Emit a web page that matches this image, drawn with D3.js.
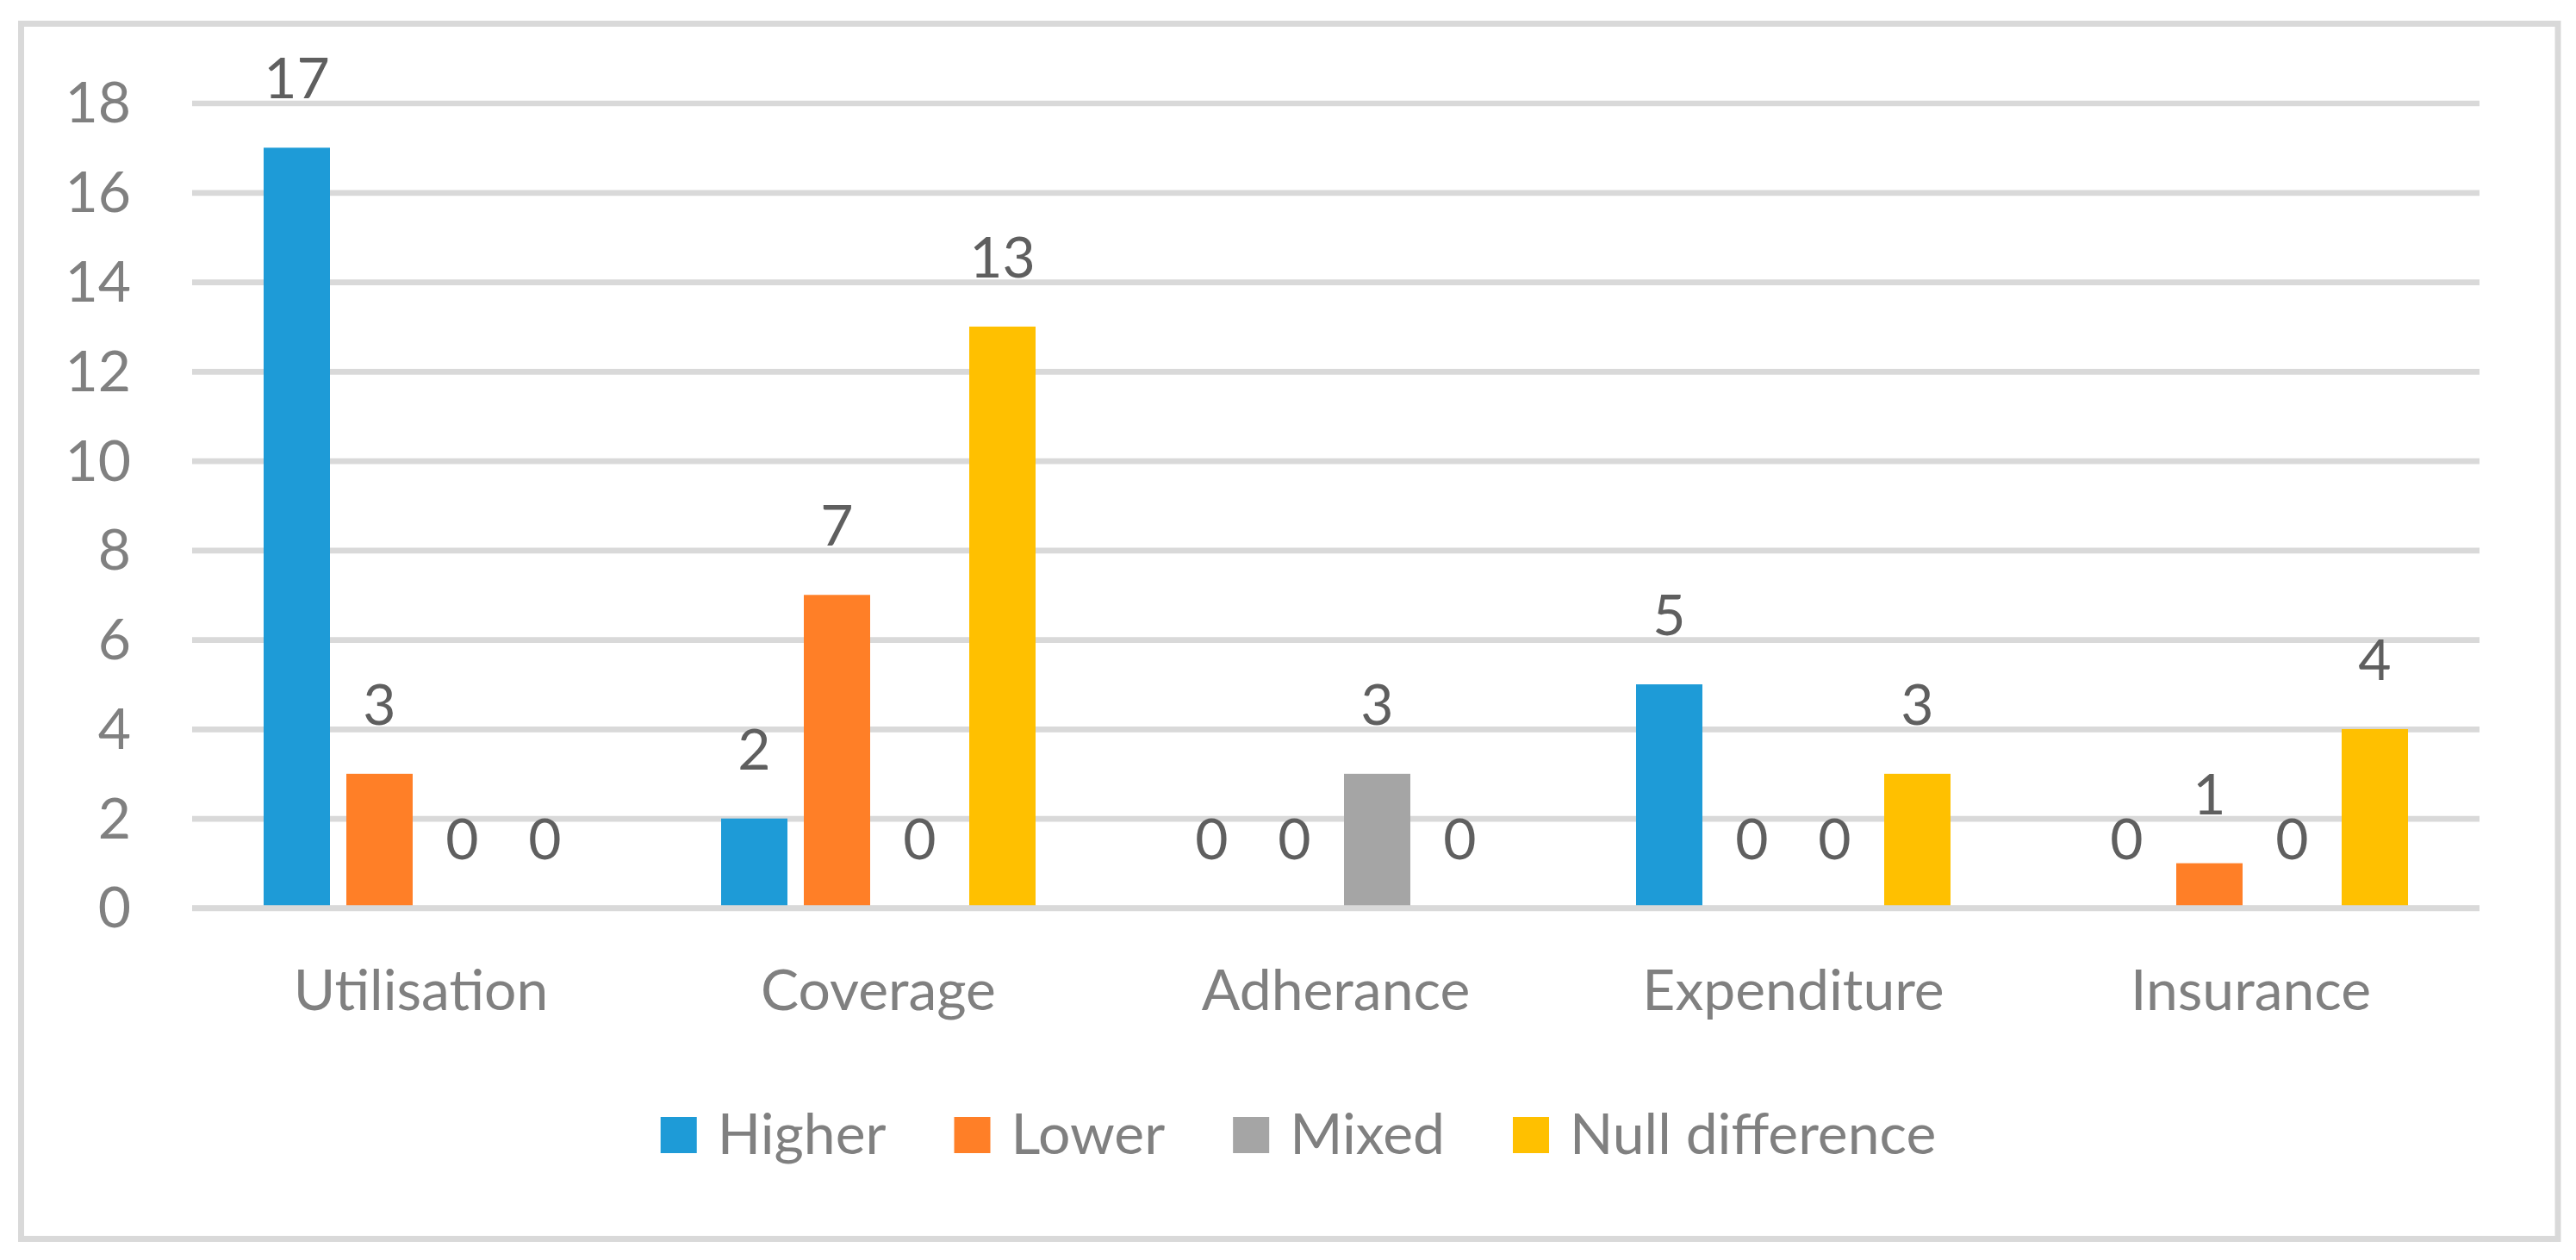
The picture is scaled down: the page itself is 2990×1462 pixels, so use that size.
<!DOCTYPE html>
<html>
<head>
<meta charset="utf-8">
<script src="https://cdn.jsdelivr.net/npm/d3@7"></script>
<style>
  body { margin: 0; background: #fff; }
  svg text { font-family: Lato, "Open Sans", sans-serif; }
</style>
</head>
<body>
<svg id="chart" width="2990" height="1462"></svg>
<script>
const categories = ['Utilisation', 'Coverage', 'Adherance', 'Expenditure', 'Insurance'];
const seriesNames = ['Higher', 'Lower', 'Mixed', 'Null difference'];
const higher = [17, 2, 0, 5, 0];
const lower = [3, 7, 0, 0, 1];
const mixed = [0, 0, 3, 0, 0];
const nullDiff = [0, 13, 0, 3, 4];
const yTicks = [0, 2, 4, 6, 8, 10, 12, 14, 16, 18];
const colors = ['#1e9bd7', '#ff7f27', '#a5a5a5', '#ffc000'];

const series = [higher, lower, mixed, nullDiff];
const rows = categories.map((c, i) => ({
  cat: c,
  vals: series.map((s, j) => ({ key: seriesNames[j], value: s[i] }))
}));

const svg = d3.select('#chart');
const plotLeft = 223, plotRight = 2878, plotTop = 119.5, plotBottom = 1053.5;

// outer frame
svg.append('rect')
  .attr('x', 24.5).attr('y', 27.5)
  .attr('width', 2944.5).attr('height', 1410)
  .attr('fill', 'none')
  .attr('stroke', '#d9d9d9')
  .attr('stroke-width', 7);

const x0 = d3.scaleBand()
  .domain(categories)
  .range([plotLeft, plotRight])
  .paddingInner(0.3126)
  .paddingOuter(0.1563);

const x1 = d3.scaleBand()
  .domain(seriesNames)
  .range([0, x0.bandwidth()])
  .paddingInner(0.198)
  .paddingOuter(0);

const y = d3.scaleLinear()
  .domain([0, 18])
  .range([plotBottom, plotTop]);

const color = d3.scaleOrdinal().domain(seriesNames).range(colors);

// y axis with gridlines
const yAxis = svg.append('g')
  .attr('transform', `translate(${plotLeft},0)`)
  .call(d3.axisLeft(y).tickValues(yTicks).tickSize(-(plotRight - plotLeft)).tickPadding(71));
yAxis.select('.domain').remove();
yAxis.selectAll('.tick line')
  .attr('stroke', '#d9d9d9')
  .attr('stroke-width', 6.7);
yAxis.selectAll('.tick text')
  .attr('fill', '#808080')
  .attr('font-size', 66)
  .attr('dy', '0.34em');

// bars
const groups = svg.append('g')
  .selectAll('g')
  .data(rows)
  .enter().append('g')
  .attr('transform', d => `translate(${x0(d.cat)},0)`);

groups.selectAll('rect')
  .data(d => d.vals)
  .enter().append('rect')
  .attr('x', d => x1(d.key))
  .attr('y', d => y(d.value))
  .attr('width', x1.bandwidth())
  .attr('height', d => y(0) - y(d.value))
  .attr('fill', d => color(d.key));

// data labels
groups.selectAll('text')
  .data(d => d.vals)
  .enter().append('text')
  .attr('x', d => x1(d.key) + x1.bandwidth() / 2)
  .attr('y', d => y(d.value) - 57)
  .attr('text-anchor', 'middle')
  .attr('font-size', 66)
  .attr('fill', '#5f5f5f')
  .text(d => d.value);

// category axis (zero line drawn over bars)
const xAxis = svg.append('g')
  .attr('transform', `translate(0,${plotBottom})`)
  .call(d3.axisBottom(x0).tickSize(0).tickPadding(71.5));
xAxis.select('.domain')
  .attr('stroke', '#d9d9d9')
  .attr('stroke-width', 6.7)
  .attr('d', `M${plotLeft},0H${plotRight}`);
xAxis.selectAll('.tick text')
  .attr('fill', '#808080')
  .attr('font-size', 66);

// legend
const legend = svg.append('g');
const items = legend.selectAll('g')
  .data(seriesNames)
  .enter().append('g');
items.append('rect')
  .attr('y', 1296)
  .attr('width', 42).attr('height', 42)
  .attr('fill', d => color(d));
items.append('text')
  .attr('x', 66)
  .attr('y', 1339)
  .attr('font-size', 66)
  .attr('fill', '#808080')
  .text(d => d);

let cursor = 0;
items.each(function() {
  const w = 66 + d3.select(this).select('text').node().getComputedTextLength();
  d3.select(this).attr('transform', `translate(${cursor},0)`);
  cursor += w + 79;
});
const legendWidth = cursor - 79;
legend.attr('transform', `translate(${1507 - legendWidth / 2},0)`);
</script>
</body>
</html>
